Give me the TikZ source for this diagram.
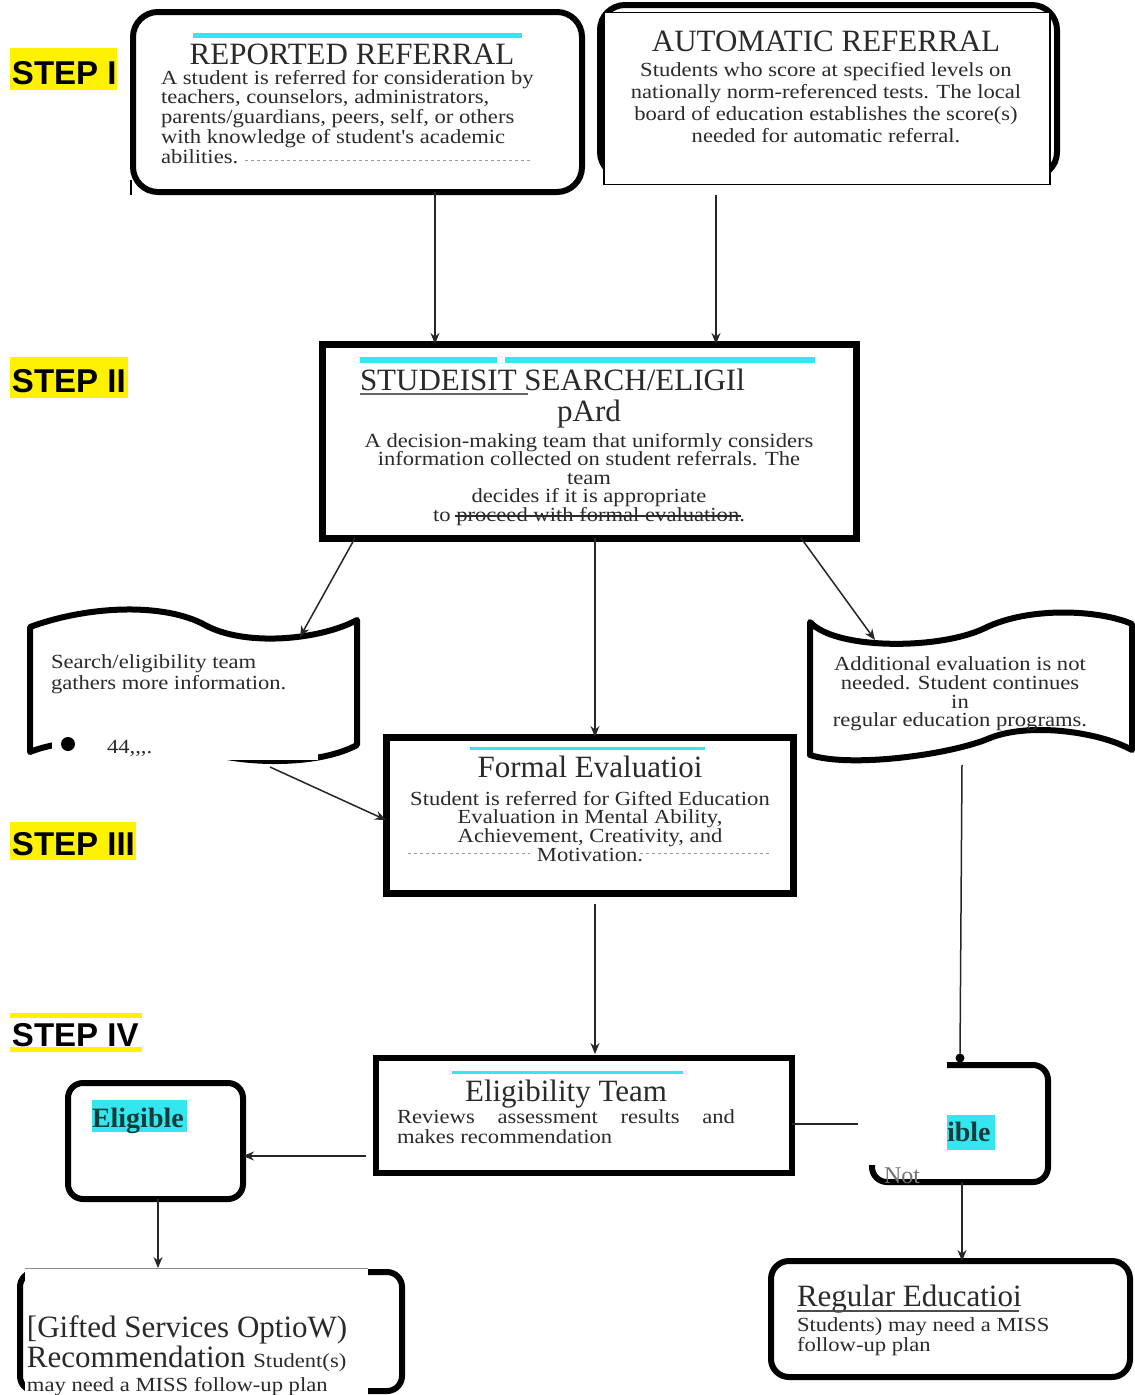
\documentclass[tikz,border=0pt]{standalone}
\usepackage{fontspec}
\setmainfont{Liberation Serif}
\newfontfamily\bodyfont{Liberation Serif}[FakeStretch=1.13]
\newfontfamily\stepfont{Liberation Sans}
\usetikzlibrary{arrows.meta}
\definecolor{hl}{HTML}{FFF200}
\definecolor{cy}{HTML}{33E6F0}
\definecolor{txt}{HTML}{2A2A2A}
\definecolor{teal}{HTML}{153A3A}
\begin{document}
\begin{tikzpicture}[x=1pt,y=-1pt,
  every node/.style={inner sep=0pt, outer sep=0pt},
  thickbox/.style={draw=black, line width=6pt, fill=white},
  roundbox/.style={thickbox, rounded corners=18pt},
  arr/.style={draw=black!85, line width=1.5pt, -{Stealth[length=11pt,width=9pt]}},
  plain/.style={draw=black!85, line width=1.5pt},
  ttl/.style={font=\fontsize{31}{31}\selectfont, text=txt},
  bdy/.style={font=\bodyfont\fontsize{20}{19.8}\selectfont, text=txt},
  steplbl/.style={font=\stepfont\bfseries\fontsize{33}{33}\selectfont, text=black, anchor=base west},
  cybar/.style={fill=cy},
  faint/.style={draw=black!40, dashed, line width=0.8pt},
]
\useasboundingbox (0,0) rectangle (1135,1395);
\fill[white] (0,0) rectangle (1135,1395);

% ---------- STEP labels
\fill[hl] (10,48) rectangle (117,90);
\node[steplbl] (s1lbl) at (12,84) {STEP I};
\fill[hl] (10,357) rectangle (128,398);
\node[steplbl] (s2lbl) at (12,392) {STEP II};
\fill[hl] (10,822) rectangle (136,860);
\node[steplbl] (s3lbl) at (12,855) {STEP III};
\fill[hl] (10,1013) rectangle (142,1052);
\fill[white] (10,1018) rectangle (142,1047);
\node[steplbl] (s4lbl) at (12,1046) {STEP IV};

% ---------- Reported referral
\node[roundbox, rounded corners=25pt, minimum width=449pt, minimum height=180pt] (rep) at (357.5,102) {};
\fill[cybar] (193,33) rectangle (522,38);
\node[ttl, anchor=base] (repT) at (352,64) {REPORTED REFERRAL};
\node[bdy, anchor=north west, align=left] (repB) at (161,70) {A student is referred for consideration by\\teachers, counselors, administrators,\\parents/guardians, peers, self, or others\\with knowledge of student's academic\\abilities.};
\draw[faint] (245,160) -- (530,160);
\draw[line width=2pt] (131,180) -- (131,195);

% ---------- Automatic referral
\node[roundbox, rounded corners=25pt, minimum width=457pt, minimum height=172pt] (autoB) at (828.5,91) {};
\node[draw=black, line width=1.5pt, fill=white, minimum width=446pt, minimum height=172pt] (auto) at (827,98.5) {};
\node[ttl, anchor=base] (autoT) at (826,51) {AUTOMATIC REFERRAL};
\node[bdy, font=\bodyfont\fontsize{20}{22}\selectfont, align=center, anchor=north] (autoTx) at (826,62) {Students who score at specified levels on\\nationally norm-referenced tests. The local\\board of education establishes the score(s)\\needed for automatic referral.};

% ---------- Step II box
\node[thickbox, line width=7pt, minimum width=534pt, minimum height=194pt] (s2) at (589,441) {};
\fill[cybar] (360,357) rectangle (497,363);
\fill[cybar] (505,357) rectangle (815,363);
\node[ttl, anchor=base west] (s2T) at (360,390) {STUDEISIT SEARCH/ELIGIl};
\draw[black!60, line width=2pt] (360,394) -- (528,394);
\node[ttl, anchor=base] (s2T2) at (589,421) {pArd};
\node[bdy, font=\bodyfont\fontsize{20}{18.5}\selectfont, align=center, anchor=north] (s2B) at (589,433) {A decision-making team that uniformly considers\\information collected on student referrals. The\\team\\decides if it is appropriate\\to proceed with formal evaluation.};
\draw[txt, line width=1.2pt] (455,516) -- (741,516);

% ---------- Left wavy box
\draw[line width=6pt, fill=white, line join=round] (30,627) .. controls (90,605) and (165,603) .. (205,625) .. controls (245,647) and (320,640) .. (357,620) -- (357,745) .. controls (320,765) and (250,765) .. (205,752) .. controls (160,738) and (70,735) .. (30,752) -- cycle;
\coordinate (lwt) at (300,637);
\coordinate (lwb) at (270,767);
\fill[white] (52,730) rectangle (318,760);
\fill[black] (68,744) circle (7);
\node[bdy, anchor=base west] (lwdots) at (107,753) {44,,,.};
\node[bdy, font=\bodyfont\fontsize{20}{21}\selectfont, anchor=north west, align=left] (lwTx) at (51,655) {Search/eligibility team\\gathers more information.};

% ---------- Right wavy box
\draw[line width=6pt, fill=white, line join=round] (810,622) .. controls (835,650) and (940,650) .. (985,628) .. controls (1030,606) and (1100,610) .. (1132,624) -- (1132,750) .. controls (1100,732) and (1030,722) .. (990,738) .. controls (950,755) and (850,768) .. (810,755) -- cycle;
\coordinate (rwt) at (875,640);
\coordinate (rwb) at (962,765);
\node[bdy, font=\bodyfont\fontsize{20}{18.7}\selectfont, align=center, anchor=north] (rwTx) at (960,657) {Additional evaluation is not\\needed. Student continues\\in\\regular education programs.};

% ---------- Formal evaluation
\node[thickbox, line width=7pt, minimum width=407pt, minimum height=156pt] (fe) at (589.5,815) {};
\fill[cybar] (470,747) rectangle (705,749.5);
\node[ttl, anchor=base] (feT) at (590,777) {Formal Evaluatioi};
\node[bdy, font=\bodyfont\fontsize{20}{18.7}\selectfont, align=center, anchor=north] (feB) at (590,791) {Student is referred for Gifted Education\\Evaluation in Mental Ability,\\Achievement, Creativity, and\\Motivation.};
\draw[faint] (408,853) -- (530,853);
\draw[faint] (640,853) -- (770,853);

% ---------- Eligibility team
\node[thickbox, minimum width=416pt, minimum height=115pt] (elig) at (584,1115.5) {};
\fill[cybar] (452,1071) rectangle (683,1074);
\node[ttl, anchor=base] (eligT) at (566,1101) {Eligibility Team};
\node[bdy, font=\bodyfont\fontsize{20}{20}\selectfont, anchor=north west, align=left] (eligB) at (397,1110) {\hbox to 338pt{Reviews\hfill assessment\hfill results\hfill and}\\makes recommendation};

% ---------- Eligible
\node[roundbox, rounded corners=15pt, minimum width=175pt, minimum height=116pt] (elgb) at (155.5,1141) {};
\fill[cybar] (92,1100) rectangle (187,1132);
\node[font=\bfseries\fontsize{28}{28}\selectfont, text=teal, anchor=base west] (elgbT) at (92,1127) {Eligible};

% ---------- Gifted services
\draw[line width=6pt, rounded corners=15pt] (20,1272) rectangle (402,1391);
\node[fill=white, minimum width=343pt, minimum height=127pt] (gif) at (196.5,1331.5) {};
\draw[black!45, line width=1pt] (25,1268) -- (368,1268);
\node[ttl, anchor=base west] (gifT) at (27,1337) {[Gifted Services OptioW)};
\node[ttl, anchor=base west] (gifT2) at (27,1367) {Recommendation {\bodyfont\fontsize{20}{20}\selectfont Student(s)}};
\node[bdy, anchor=base west] (gifB) at (27,1391) {may need a MISS follow-up plan};

% ---------- Not eligible
\node[roundbox, rounded corners=15pt, minimum width=176pt, minimum height=117pt] (neb) at (960,1123.5) {};
\node[fill=white, minimum width=89pt, minimum height=105pt] (neo) at (902.5,1112.5) {};
\fill[cybar] (947,1115) rectangle (995,1150);
\node[font=\bfseries\fontsize{28}{28}\selectfont, text=teal, anchor=base west] (nebT) at (947,1141) {ible};
\node[font=\fontsize{24}{24}\selectfont, text=black!55, anchor=base west] (nebN) at (884,1183) {Not};
\node[circle, fill=black, minimum size=9pt] (dot) at (960,1058) {};

% ---------- Regular education
\node[roundbox, rounded corners=18pt, minimum width=359pt, minimum height=116pt] (reg) at (950.5,1319) {};
\node[ttl, anchor=base west] (regT) at (797,1306) {Regular Educatioi};
\draw[black!70, line width=1.8pt] (797,1311) -- (1019,1311);
\node[bdy, font=\bodyfont\fontsize{20}{20}\selectfont, anchor=north west, align=left] (regB) at (797,1317.5) {Students) may need a MISS\\follow-up plan};

% ---------- connectors
\coordinate (xa) at (435,0);
\coordinate (xb) at (716,0);
\coordinate (xc) at (355,0);
\coordinate (xd) at (595,0);
\coordinate (xe) at (801,0);
\coordinate (xf) at (158,0);
\coordinate (xg) at (962,0);
\coordinate (ya) at (0,820);
\coordinate (yb) at (0,1156);
\coordinate (yc) at (0,1124);
\draw[arr] (rep.south -| xa) -- (s2.north -| xa);
\draw[arr] (auto.south -| xb) ++(0,10) -- (s2.north -| xb);
\draw[arr] (s2.south -| xc) -- (lwt);
\draw[arr] (s2.south -| xd) -- (fe.north -| xd);
\draw[arr] (s2.south -| xe) -- (rwt);
\draw[arr] (lwb) -- (fe.west |- ya);
\draw[arr, shorten <=11pt, shorten >=4pt] (fe.south -| xd) -- (elig.north -| xd);
\draw[arr, shorten <=10pt] (elig.west |- yb) -- (elgb.east |- yb);
\draw[arr] (elgb.south -| xf) -- (gif.north -| xf);
\draw[plain] (elig.east |- yc) -- (neo.west |- yc);
\draw[plain] (rwb) -- (dot);
\draw[arr] (neb.south -| xg) -- (reg.north -| xg);
\end{tikzpicture}
\end{document}
